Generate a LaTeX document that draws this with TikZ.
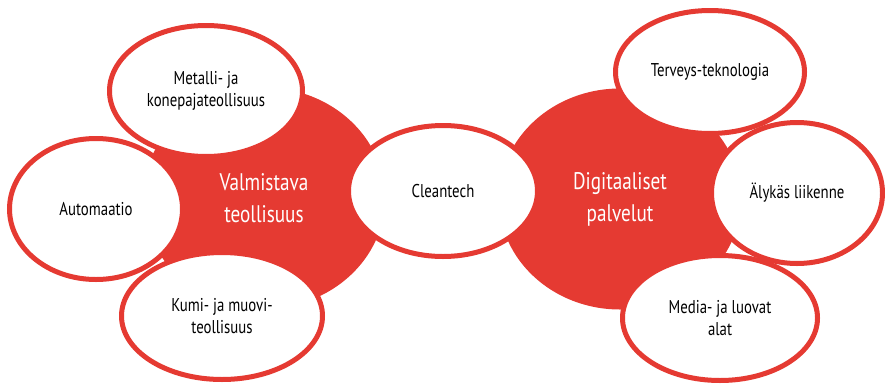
\documentclass[tikz,border=0pt]{standalone}
\usepackage{fontspec}
\setmainfont[FakeStretch=0.8]{PT Sans}
\usetikzlibrary{shapes.geometric}
\definecolor{hubred}{RGB}{229,58,50}

\begin{document}
\begin{tikzpicture}[
    x=1pt, y=-1pt,
    font=\fontsize{18.5}{22}\selectfont,
    hub/.style={ellipse, fill=hubred, text=white, align=center, inner sep=0pt,
      minimum width=242pt, minimum height=221pt, font=\fontsize{24}{32}\selectfont},
    topic/.style={ellipse, draw=hubred, line width=5pt, fill=white, align=center, inner sep=0pt},
  ]
    \useasboundingbox (0,0) rectangle (885,383);

    \node[hub] (valm) at (264,198) {Valmistava\\teollisuus};
    \node[hub] (digi) at (620,199) {Digitaaliset\\palvelut};

    \node[topic, minimum width=173pt, minimum height=141pt] (auto) at (96,209) {Automaatio};
    \node[topic, minimum width=193pt, minimum height=131pt] (metal) at (206,91) {Metalli- ja\\konepajateollisuus};
    \node[topic, minimum width=201pt, minimum height=127pt] (kumi) at (222,316) {Kumi- ja muovi-\\teollisuus};
    \node[topic, minimum width=189pt, minimum height=131pt] (clean) at (443,191) {Cleantech};
    \node[topic, minimum width=189pt, minimum height=123pt] (terv) at (710,72) {Terveys-teknologia};
    \node[topic, minimum width=171pt, minimum height=141pt] (alyk) at (797,193) {Älykäs liikenne};
    \node[topic, minimum width=195pt, minimum height=125pt] (media) at (720,318) {Media- ja luovat\\alat};
  \end{tikzpicture}
\end{document}
